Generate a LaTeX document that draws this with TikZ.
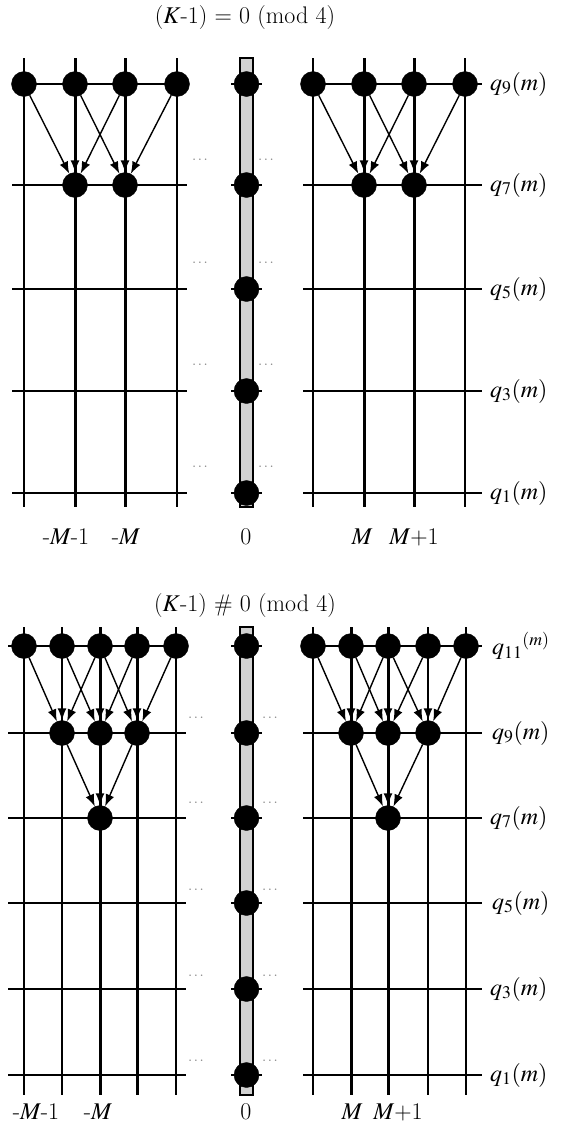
\documentclass[tikz,border=0pt]{standalone}
\usepackage{mathptmx}
\usetikzlibrary{arrows.meta}

\begin{document}
\begin{tikzpicture}[x=1pt, y=-1pt,
    >={Latex[length=12pt, width=9pt]},
    grid/.style ={line width=1.4pt},
    thk/.style  ={line width=3pt},
    site/.style ={draw, circle, fill=black, inner sep=0pt, minimum size=25pt},
    flow/.style ={->, line width=1.4pt},
    bar/.style  ={draw, line width=1.2pt, fill=black!18},
    lbl/.style  ={font=\fontsize{24}{28}\selectfont, inner sep=0pt},
    more/.style ={font=\fontsize{15}{17}\selectfont, text=black!45, inner sep=0pt},
]
\useasboundingbox (0,0) rectangle (561,1130);

% ---------------- upper panel
\node[lbl] (ttitle) at (245,18) {($K$-1) = 0 (mod 4)};
% grid lines
\foreach \x in {24,177,313,465} \draw[grid] (\x,58) -- (\x,507);
\foreach \x in {75,125,364,414} \draw[thk] (\x,58) -- (\x,507);
\draw[bar] (240,58) rectangle (253,507);
\foreach \y in {84,185,289,391,493} {
  \draw[grid] (12,\y) -- (187,\y);
  \draw[grid] (303,\y) -- (482,\y);
  \draw[grid] (231,\y) -- (262,\y);
}
% sites
\foreach \c/\x in {1/24,2/75,3/125,4/177} \node[site] (tl9\c) at (\x,84) {};
\foreach \c/\x in {1/313,2/364,3/414,4/465} \node[site] (tr9\c) at (\x,84) {};
\foreach \c/\x in {2/75,3/125} \node[site] (tl7\c) at (\x,185) {};
\foreach \c/\x in {2/364,3/414} \node[site] (tr7\c) at (\x,185) {};
\foreach \r/\y in {9/84,7/185,5/289,3/391,1/493} \node[site] (tc\r) at (246.5,\y) {};
% transfers
\foreach \s/\t in {1/2,2/2,3/2,2/3,3/3,4/3} {
  \draw[flow] (tl9\s) -- (tl7\t);
  \draw[flow] (tr9\s) -- (tr7\t);
}
% dots between the blocks
\foreach \y [count=\i] in {160,263,365,467} {
  \node[more] (tdl\i) at (200,\y) {$\cdots$};
  \node[more] (tdr\i) at (266,\y) {$\cdots$};
}
% row and column labels
\node[lbl, anchor=west] (tq9) at (490,84)  {$q_9(m)$};
\node[lbl, anchor=west] (tq7) at (490,185) {$q_7(m)$};
\node[lbl, anchor=west] (tq5) at (490,289) {$q_5(m)$};
\node[lbl, anchor=west] (tq3) at (490,391) {$q_3(m)$};
\node[lbl, anchor=west] (tq1) at (490,493) {$q_1(m)$};
\node[lbl] (tm1) at (66,537)  {-$M$-1};
\node[lbl] (tm0) at (126,537) {-$M$};
\node[lbl] (tz)  at (246,537) {0};
\node[lbl] (tp0) at (362,537) {$M$};
\node[lbl] (tp1) at (414,537) {$M$+1};

% ---------------- lower panel
\node[lbl] (btitle) at (245,606) {($K$-1) \# 0 (mod 4)};
% grid lines
\foreach \x in {24,62,176,313,428,466} \draw[grid] (\x,627) -- (\x,1095);
\foreach \x in {100,137,351,388} \draw[thk] (\x,627) -- (\x,1095);
\draw[bar] (240,627) rectangle (253,1095);
\foreach \y in {646,733,818,903,989,1075} {
  \draw[grid] (8,\y) -- (186,\y);
  \draw[grid] (303,\y) -- (482,\y);
  \draw[grid] (231,\y) -- (262,\y);
}
% sites
\foreach \c/\x in {1/24,2/62,3/100,4/137,5/176} \node[site] (bl11\c) at (\x,646) {};
\foreach \c/\x in {1/313,2/351,3/388,4/428,5/466} \node[site] (br11\c) at (\x,646) {};
\foreach \c/\x in {2/62,3/100,4/137} \node[site] (bl9\c) at (\x,733) {};
\foreach \c/\x in {2/351,3/388,4/428} \node[site] (br9\c) at (\x,733) {};
\node[site] (bl73) at (100,818) {};
\node[site] (br73) at (388,818) {};
\foreach \r/\y in {11/646,9/733,7/818,5/903,3/989,1/1075} \node[site] (bc\r) at (246.5,\y) {};
% transfers
\foreach \s/\t in {1/2,2/2,3/2,2/3,3/3,4/3,3/4,4/4,5/4} {
  \draw[flow] (bl11\s) -- (bl9\t);
  \draw[flow] (br11\s) -- (br9\t);
}
\foreach \s in {2,3,4} {
  \draw[flow] (bl9\s) -- (bl73);
  \draw[flow] (br9\s) -- (br73);
}
% dots between the blocks
\foreach \y [count=\i] in {718,803,890,976,1061} {
  \node[more] (bdl\i) at (196,\y) {$\cdots$};
  \node[more] (bdr\i) at (270,\y) {$\cdots$};
}
% row and column labels
\node[lbl, anchor=west] (bq11) at (492,646) {$q_{11}{}^{(m)}$};
\node[lbl, anchor=west] (bq9) at (492,733)  {$q_9(m)$};
\node[lbl, anchor=west] (bq7) at (490,818)  {$q_7(m)$};
\node[lbl, anchor=west] (bq5) at (492,903)  {$q_5(m)$};
\node[lbl, anchor=west] (bq3) at (490,989)  {$q_3(m)$};
\node[lbl, anchor=west] (bq1) at (490,1075) {$q_1(m)$};
\node[lbl] (bm1) at (36,1112)  {-$M$-1};
\node[lbl] (bm0) at (98,1112)  {-$M$};
\node[lbl] (bz)  at (246,1112) {0};
\node[lbl] (bp0) at (352,1112) {$M$};
\node[lbl] (bp1) at (398,1112) {$M$+1};
\end{tikzpicture}
\end{document}
